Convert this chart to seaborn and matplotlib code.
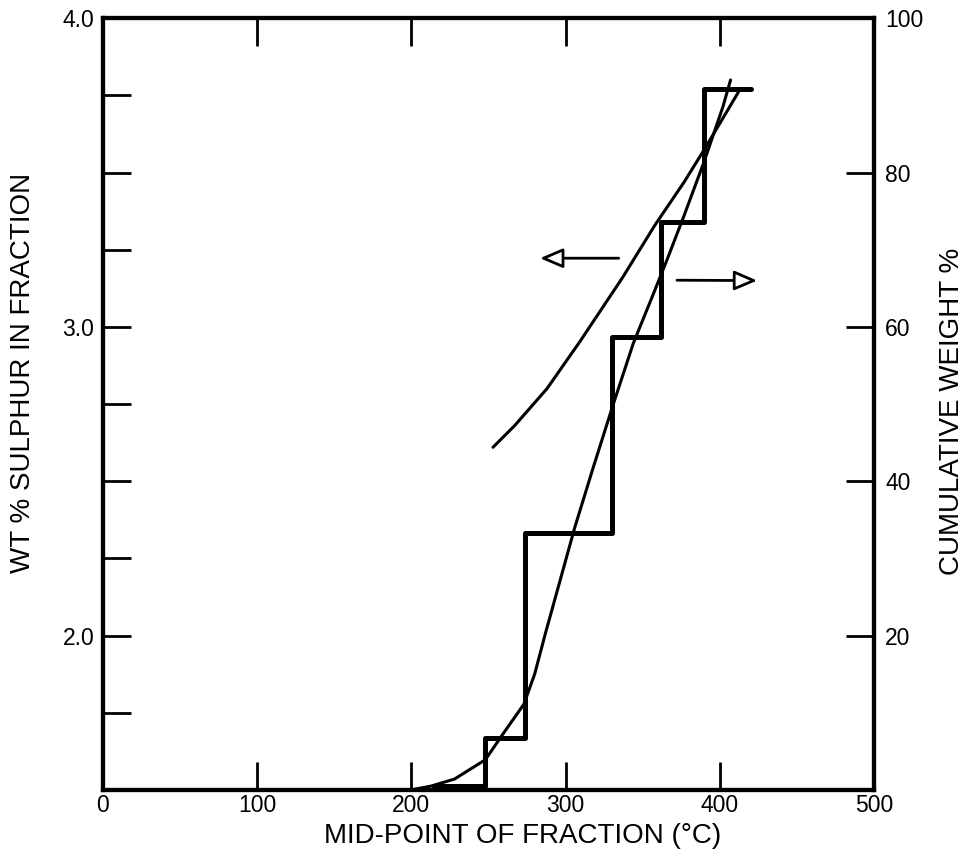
import matplotlib
matplotlib.use("Agg")
import matplotlib.pyplot as plt
import seaborn as sns
import pandas as pd

# --- data ---
step_x = [215, 215, 248, 274, 330, 362, 390, 420]
step_cum = [0.0, 0.9, 6.7, 33.3, 58.7, 73.6, 90.8, 90.8]

cum_x = [200, 213, 228, 248, 260, 273, 280, 287, 306, 318, 331, 344, 356, 366, 377, 390, 402, 407]
cum_y = [0.0, 0.5, 1.4, 3.9, 7.4, 11.1, 15.0, 20.3, 34.0, 41.8, 50.0, 57.9, 63.8, 68.8, 74.5, 81.5, 88.5, 92.0]

sul_x = [253, 267, 288, 309, 337, 358, 377, 390, 412]
sul_y = [2.61, 2.68, 2.80, 2.95, 3.16, 3.33, 3.47, 3.575, 3.76]

x_ticks = [0, 100, 200, 300, 400, 500]
left_major = [2.0, 3.0, 4.0]
left_minor = [1.75, 2.25, 2.5, 2.75, 3.25, 3.5, 3.75]
right_ticks = [20, 40, 60, 80, 100]

sns.set_style("ticks")
plt.rcParams['font.family'] = ['Liberation Sans', 'DejaVu Sans']
plt.rcParams['text.color'] = 'black'
plt.rcParams['xtick.color'] = 'black'
plt.rcParams['ytick.color'] = 'black'
plt.rcParams['axes.labelcolor'] = 'black'

fig = plt.figure(figsize=(9.69, 8.68), dpi=100)
ax = fig.add_axes([0.106, 0.09, 0.796, 0.889])
ax2 = ax.twinx()

df_sul = pd.DataFrame({"x": sul_x, "y": sul_y})
df_cum = pd.DataFrame({"x": cum_x, "y": cum_y})
df_step = pd.DataFrame({"x": step_x, "y": step_cum})

sns.lineplot(data=df_sul, x="x", y="y", ax=ax, color="black", lw=2.2, sort=False)
sns.lineplot(data=df_cum, x="x", y="y", ax=ax2, color="black", lw=2.2, sort=False)
sns.lineplot(data=df_step, x="x", y="y", ax=ax2, color="black", lw=3.6,
             drawstyle="steps-post", sort=False)

ax.set_xlim(0, 500)
ax.set_ylim(1.5, 4.0)
ax2.set_ylim(0, 100)

ax.set_xticks(x_ticks)
ax.set_xticklabels([str(v) for v in x_ticks])
ax.set_yticks(left_major)
ax.set_yticklabels(["2.0", "3.0", "4.0"])
ax.set_yticks(left_minor, minor=True)
ax2.set_yticks(right_ticks)
ax2.set_yticklabels([str(v) for v in right_ticks])

ax.tick_params(axis="x", which="major", direction="in", length=20, width=2,
               top=True, labelsize=16.5, pad=3, colors="black")
ax.tick_params(axis="y", which="both", direction="in", length=20, width=2,
               labelsize=16.5, pad=6, colors="black")
ax2.tick_params(axis="y", direction="in", length=20, width=2, labelsize=16.5,
                pad=8, colors="black")

for a in (ax, ax2):
    for s in a.spines.values():
        s.set_visible(True)
        s.set_linewidth(3)
        s.set_color("black")

ax.set_xlabel("MID-POINT OF FRACTION (°C)", fontsize=20)
ax.set_ylabel("WT % SULPHUR IN FRACTION", fontsize=20)
ax2.set_ylabel("CUMULATIVE WEIGHT %", fontsize=20)
ax.xaxis.set_label_coords(0.545, -0.043)
ax.yaxis.set_label_coords(-0.087, 0.54)
ax2.yaxis.set_label_coords(1.084, 0.49)

# direction arrows
arrow_kw = dict(arrowstyle="-|>,head_length=0.7,head_width=0.3", lw=2.0,
                color="black", fc="white", mutation_scale=20, shrinkA=0, shrinkB=0)
ax.annotate("", xy=(0.567, 0.689), xytext=(0.669, 0.689), xycoords="axes fraction",
            arrowprops=arrow_kw)
ax.annotate("", xy=(0.8485, 0.660), xytext=(0.7445, 0.6605), xycoords="axes fraction",
            arrowprops=arrow_kw)

fig.savefig("out.png", dpi=100)
